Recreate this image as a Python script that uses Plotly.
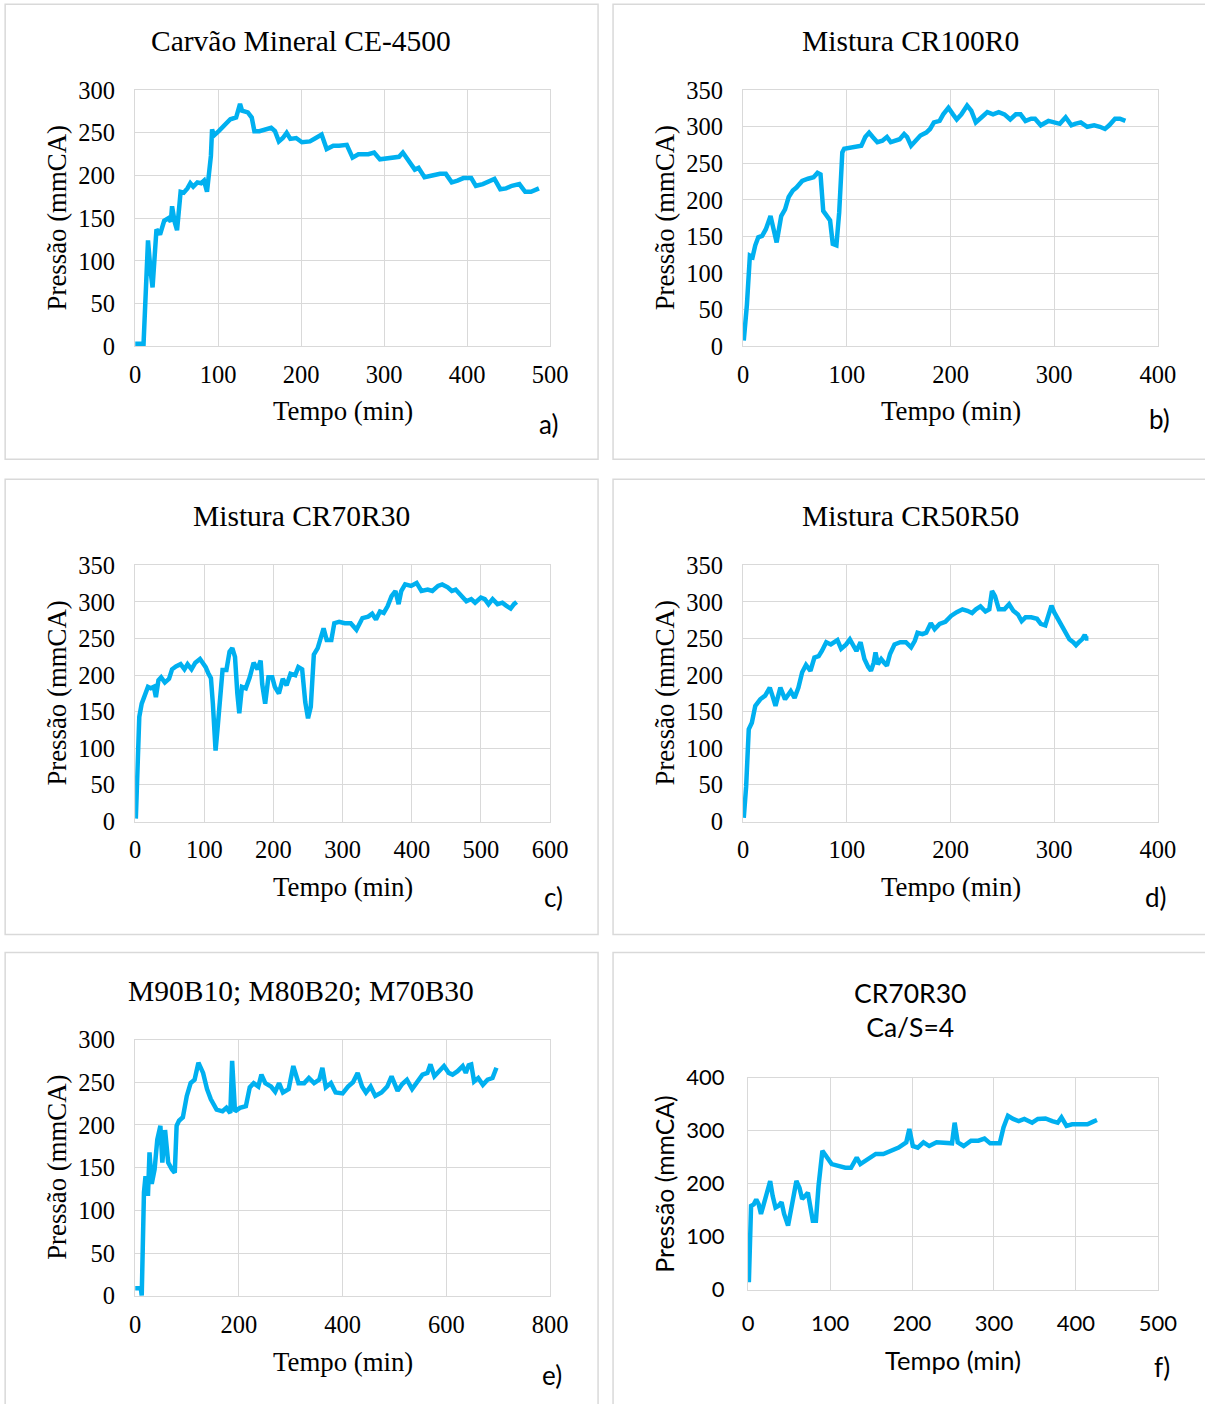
import plotly.graph_objects as go

# The html body keeps its default 8px margin, so the figure is drawn inside it.
PAGE_OFF = 8
W, H = 1240, 1430
# measured relation between page pixels and the photographed picture
SHOT_SCALE, SHOT_DX, SHOT_DY = 0.98, -2.0, 7.0

# ---------------- data ----------------
a_time = [0, 9, 10, 15.5, 18.7, 21, 25.7, 30, 35, 40, 43, 44.5, 47.8, 50.5, 54.8, 58.5, 63, 66.5, 70, 75, 79.6, 83,
          86.6, 89, 91.3, 92.7, 95, 100.7, 107.7, 114.7, 121.7, 124, 126.4, 128.8, 135.8, 140.5, 143.7, 149.8, 156.8,
          163.9, 168.5, 173.2, 178, 182.6, 187, 194, 201, 210.6, 217.7, 224.7, 230.8, 238.8, 245.8, 255, 262, 269,
          281, 288, 295, 302, 311, 318, 322.6, 329.6, 337, 341.5, 348.7, 358, 367.4, 374.4, 381.5, 388.5, 395.5, 405,
          410.6, 419, 426, 433, 440, 447, 454, 463, 470, 477, 486.6]
a_pres = [3, 3, 0, 124, 87, 69, 137, 131, 147, 150, 146, 164, 145, 136, 181, 180, 185, 191, 187, 192, 191, 194,
          181, 205, 223, 254, 247, 252, 260, 266, 268, 278, 284, 276, 274, 268, 252, 252, 254,
          256, 252, 240, 244, 250, 243, 244, 239, 240, 244, 248, 231, 235, 235, 236, 221, 225,
          225, 227, 219, 220, 222, 222, 227, 217, 207, 209, 198, 200, 202, 202, 192, 194, 197, 197,
          188, 190, 193, 196, 184, 185, 188, 190, 181, 181, 185]

b_time = [0.7, 3.7, 6.6, 9.2, 11.8, 14.7, 18.4, 22, 26.5, 29.4, 32.4, 36.8, 40.5, 44, 48, 51.5, 57, 62.6, 68, 71.8,
          74.7, 77.3, 80.9, 83.9, 86.5, 90, 92.7, 95.7, 97.5, 103, 108.6, 114, 117.8, 121.5, 125, 129.5, 134.3,
          138.7, 142.4, 147, 151, 155.3, 158.2, 162, 166.3, 171, 176.6, 180.3, 184, 189.5, 193, 198, 202.4, 206,
          210.5, 216, 220, 224.4, 230, 235.5, 241, 246.5, 252, 257.6, 263, 267.5, 272.3, 277.8, 281.5, 287, 294.4,
          300, 305.4, 311, 316.5, 320, 325.6, 331.8, 338.5, 344, 348.9, 353, 358.6, 363.3, 368.6]
b_pres = [8, 56, 124, 122, 138, 149, 151, 160, 178, 160, 142, 178, 187, 204, 213, 217, 226, 229, 231, 237,
          235, 185, 178, 172, 140, 138, 183, 265, 270, 271, 272, 274, 286, 292, 286, 279, 281,
          286, 279, 281, 283, 290, 286, 274, 281, 288, 292, 297, 306, 308, 317, 326, 317, 310,
          317, 329, 322, 306, 313, 320, 317, 320, 317, 310, 317, 317, 308, 311, 311, 302, 308,
          306, 304, 313, 302, 304, 306, 300, 302, 300, 297, 302, 311, 311, 308]

c_time = [1, 4, 6, 9.5, 14, 18.5, 22.5, 27, 30, 33.7, 37.6, 43, 49, 53.4, 59, 65.7, 71.3, 75.8, 81.5, 87, 93.8,
          98.3, 102, 105.6, 109.6, 112.4, 116.3, 119, 122.5, 126.4, 132, 136.5, 140.5, 144.4, 147.8, 150.6, 154.5,
          160, 165.7, 171.3, 177, 181.5, 183.7, 188, 192.7, 198.3, 202, 207.9, 213.5, 219, 224.7, 231.5, 236,
          241.5, 246, 250, 254, 258.4, 264, 268, 272.5, 277, 283.7, 288, 295, 303, 311.8, 320, 328.7, 337, 342.7,
          348.3, 354, 359.5, 365, 370.8, 376.4, 381, 384.8, 390.4, 399, 407, 414, 423, 429.8, 438, 444, 452,
          457.9, 463.5, 472, 479, 486, 491.6, 500, 505.6, 511, 516.9, 524, 531, 536.5, 543, 547.8, 551.7]
c_pres = [4, 97, 143, 161, 175, 184, 182, 184, 170, 193, 197, 190, 195, 208, 212, 215, 208, 215, 208, 217, 222,
          217, 211, 203, 196, 161, 97, 125, 170, 207, 207, 232, 237, 225, 175, 148, 184,
          182, 197, 217, 208, 220, 188, 161, 197, 197, 184, 175, 195, 186, 202, 200, 211,
          208, 163, 141, 157, 228, 237, 250, 264, 248, 248, 271, 273, 271, 271, 262, 278, 280, 284,
          276, 287, 285, 294, 308, 315, 297, 315, 324, 322, 326, 315, 317, 315, 322, 324, 320,
          315, 317, 308, 301, 304, 299, 306, 304, 297, 304, 297, 299, 295, 291, 297, 300]

d_time = [0.7, 3, 5.5, 8.5, 11.8, 16.6, 21.3, 25.8, 28.3, 31.3, 36, 40.5, 46, 49.7, 53.4, 57, 60.7, 65, 68.8,
          72.9, 76, 80.2, 84.6, 88.3, 91, 94.6, 99.4, 103, 106.8, 109.3, 113.3, 117, 120.7, 123.3, 126, 127.7,
          130, 133.2, 136, 138.7, 141.7, 146, 151.6, 157, 162, 165.6, 168.2, 173, 176.6, 181, 184.7, 189.5, 195,
          200.5, 206, 211.5, 216.3, 220.8, 224.5, 228.9, 233.7, 237.4, 240, 242.9, 246.6, 252, 256.5, 260.5, 265,
          268.6, 272.3, 277.8, 283.4, 287, 291.4, 294.4, 297.3, 299.9, 303.6, 307.3, 311, 314.6, 318.3, 321,
          323.8, 326.8, 329.4, 331, 333]
d_pres = [5, 48, 126, 135, 158, 167, 172, 183, 172, 158, 183, 167, 178, 169, 183, 204, 214, 206, 224,
          226, 233, 245, 242, 246, 248, 236, 242, 249, 240, 233, 245, 222, 211, 206, 217, 231,
          215, 222, 217, 213, 229, 242, 245, 245, 238, 247, 258, 256, 258, 271, 263, 270, 273,
          281, 286, 290, 288, 285, 290, 294, 287, 290, 315, 308, 290, 290, 297, 288, 283,
          274, 279, 279, 277, 270, 268, 281, 295, 286, 277, 268, 256, 249, 245, 241,
          245, 249, 255, 250, 250]

e_time = [0, 11, 12.7, 17, 20, 24.7, 27.7, 32, 37.5, 42.7, 48.7, 52.4, 57.7, 63.7, 71, 76.4, 80, 84.6, 92, 99.6,
          107, 114.6, 122, 131, 138.6, 146, 157, 168.5, 176, 183.5, 187, 192.5, 202, 213.5, 221, 228.5, 237.5,
          243.5, 251, 262, 270, 277.5, 285, 296, 305, 315, 326, 335, 345, 355, 361, 367.6, 377.5, 386.5, 400,
          410.5, 420, 429, 437.5, 445, 454, 463, 475, 486, 494.4, 506, 515, 524, 534, 543, 554, 563.5, 569.4,
          577, 586.5, 595.5, 604.5, 612, 621.7, 631.5, 637.5, 643, 648, 653.5, 661.5, 670.4, 679.5, 689, 696.6]
e_pres = [8.6, 8.6, 0, 121, 140, 117, 168, 131, 148, 183, 199, 156, 194, 156, 148, 144, 199, 205, 209, 234,
          249, 253, 273, 261, 242, 230, 218, 216, 220, 214, 275, 216, 220, 222, 244, 249, 245,
          259, 249, 245, 239, 249, 238, 242, 269, 249, 249, 255, 249, 253, 267, 244, 249, 238, 237,
          245, 250, 261, 245, 238, 245, 234, 238, 245, 257, 240, 248, 253, 242, 249, 259, 261, 271,
          257, 263, 269, 261, 259, 263, 269, 261, 270, 271, 251, 255, 247, 253, 255, 267]

f_time = [1, 3.7, 7, 10, 13, 15.8, 18.6, 22.3, 27, 30, 33.5, 37, 40.9, 44, 48.8, 52.6, 55.8, 59, 62.8, 66, 69.8,
          73, 75.8, 79, 82.8, 86, 90.7, 95, 102, 109, 118.6, 125.6, 132.6, 137, 146.5, 155.8, 165, 174.4, 183.7,
          193, 196.7, 201, 207, 214, 221, 230, 239.5, 248.8, 252, 255.8, 263, 272, 281, 288.4, 295.3, 307, 311.6,
          317, 323.3, 330.2, 337, 346.5, 353.5, 362.8, 371, 377.7, 382.3, 388.4, 395.3, 404.6, 414, 421, 425.6]
f_pres = [14, 158, 161, 170, 161, 143, 158, 177, 205, 177, 155, 158, 165, 143, 121, 152, 177, 205, 192, 171, 177,
          183, 158, 130, 130, 196, 262, 252, 237, 234, 230, 230, 249, 237, 246, 256, 256, 262, 268,
          278, 303, 271, 268, 278, 271, 278, 276, 276, 315, 278, 271, 281, 281, 285, 276, 276, 306,
          328, 322, 318, 322, 315, 322, 323, 318, 315, 325, 309, 312, 311, 312, 317, 320]

titles = ["Carvão Mineral CE-4500", "Mistura CR100R0", "Mistura CR70R30", "Mistura CR50R50",
          "M90B10; M80B20; M70B30", "CR70R30<br>Ca/S=4"]
letters = ["a)", "b)", "c)", "d)", "e)", "f)"]
x_ranges = [[0, 500], [0, 400], [0, 600], [0, 400], [0, 800], [0, 500]]
x_dticks = [100, 100, 100, 100, 200, 100]
y_ranges = [[0, 300], [0, 350], [0, 350], [0, 350], [0, 300], [0, 400]]
y_dticks = [50, 50, 50, 50, 50, 100]
x_title = "Tempo (min)"
y_title = "Pressão (mmCA)"

series = [(a_time, a_pres), (b_time, b_pres), (c_time, c_pres),
          (d_time, d_pres), (e_time, e_pres), (f_time, f_pres)]

# ---------------- layout geometry (picture pixels) ----------------
plot_boxes = [(135, 550, 91, 347), (743, 1158, 91, 347),
              (135, 550, 566, 822), (743, 1158, 566, 822),
              (135, 550, 1040, 1296), (748, 1158, 1078, 1290)]
panel_boxes = [(5, 598, 5, 460), (613, 1230, 5, 460),
               (5, 598, 480, 935), (613, 1230, 480, 935),
               (5, 598, 953, 1430), (613, 1230, 953, 1430)]
title_pos = [(301, 42), (910, 42), (301, 517), (910, 517), (301, 991), (910, 1010)]
xtitle_pos = [(343, 412), (951, 412), (343, 887), (951, 887), (343, 1362), (953, 1360)]
ytitle_pos = [(57, 219), (665, 219), (57, 694), (665, 694), (57, 1168), (665, 1185)]
letter_pos = [(548, 425), (1160, 420), (553, 897), (1156, 897), (552, 1375), (1162, 1367)]
x_standoff = [6, 6, 6, 6, 7, 14]
y_standoff = [14, 14, 14, 14, 14, 18]

SERIF = "Liberation Serif, Times New Roman, serif"
SANS = "Lato, Carlito, Calibri, sans-serif"
LINE_COLOR = "#00b0f0"
GRID = "#d9d9d9"


def px(x):
    page = (x - SHOT_DX) / SHOT_SCALE
    return (page - PAGE_OFF) / W


def py(y):
    page = (y - SHOT_DY) / SHOT_SCALE
    return 1 - (page - PAGE_OFF) / H


fig = go.Figure()
annotations = []
shapes = []

for i in range(6):
    n = "" if i == 0 else str(i + 1)
    xt, yv = series[i]
    fig.add_trace(go.Scatter(x=xt, y=yv, mode="lines", xaxis="x" + n, yaxis="y" + n,
                             line=dict(color=LINE_COLOR, width=4.5), showlegend=False, hoverinfo="x+y"))
    x0, x1, y0, y1 = plot_boxes[i]
    font = SANS if i == 5 else SERIF
    tick_size = 22 if i == 5 else 24.5
    fig.update_layout(**{
        "xaxis" + n: dict(domain=[px(x0), px(x1)], anchor="y" + n, range=x_ranges[i], dtick=x_dticks[i],
                          showgrid=True, gridcolor=GRID, gridwidth=1.3, zeroline=False,
                          showline=True, mirror=True, linecolor=GRID, linewidth=1.3,
                          ticks="", ticklabelstandoff=x_standoff[i],
                          tickfont=dict(family=font, size=tick_size, color="black"), fixedrange=True),
        "yaxis" + n: dict(domain=[py(y1), py(y0)], anchor="x" + n, range=y_ranges[i], dtick=y_dticks[i],
                          showgrid=True, gridcolor=GRID, gridwidth=1.3, zeroline=False,
                          showline=True, mirror=True, linecolor=GRID, linewidth=1.3,
                          ticks="", ticklabelstandoff=y_standoff[i],
                          tickfont=dict(family=font, size=tick_size, color="black"), fixedrange=True),
    })

    bx0, bx1, by0, by1 = panel_boxes[i]
    shapes.append(dict(type="rect", xref="paper", yref="paper", x0=px(bx0), x1=px(bx1), y0=py(by1), y1=py(by0),
                       line=dict(color=GRID, width=1.5), fillcolor="rgba(0,0,0,0)", layer="below"))

    tsize = 26.5 if i == 5 else 29.5
    annotations.append(dict(text=titles[i], x=px(title_pos[i][0]), y=py(title_pos[i][1]), xref="paper",
                            yref="paper", showarrow=False, xanchor="center", yanchor="middle",
                            font=dict(family=font, size=tsize, color="black")))
    asize = 25.5 if i == 5 else 26.8
    annotations.append(dict(text=x_title, x=px(xtitle_pos[i][0]), y=py(xtitle_pos[i][1]), xref="paper",
                            yref="paper", showarrow=False, xanchor="center", yanchor="middle",
                            font=dict(family=font, size=asize, color="black")))
    ysize = 24.8 if i == 5 else 26.8
    annotations.append(dict(text=y_title, x=px(ytitle_pos[i][0]), y=py(ytitle_pos[i][1]), xref="paper",
                            yref="paper", showarrow=False, xanchor="center", yanchor="middle", textangle=-90,
                            font=dict(family=font, size=ysize, color="black")))
    annotations.append(dict(text=letters[i], x=px(letter_pos[i][0]), y=py(letter_pos[i][1]), xref="paper",
                            yref="paper", showarrow=False, xanchor="center", yanchor="middle",
                            font=dict(family=SANS, size=26, color="black")))

fig.update_layout(width=W, height=H, margin=dict(l=0, r=0, t=0, b=0),
                  paper_bgcolor="white", plot_bgcolor="white",
                  annotations=annotations, shapes=shapes, showlegend=False)

fig.write_html("out.html", config={"displayModeBar": False})
